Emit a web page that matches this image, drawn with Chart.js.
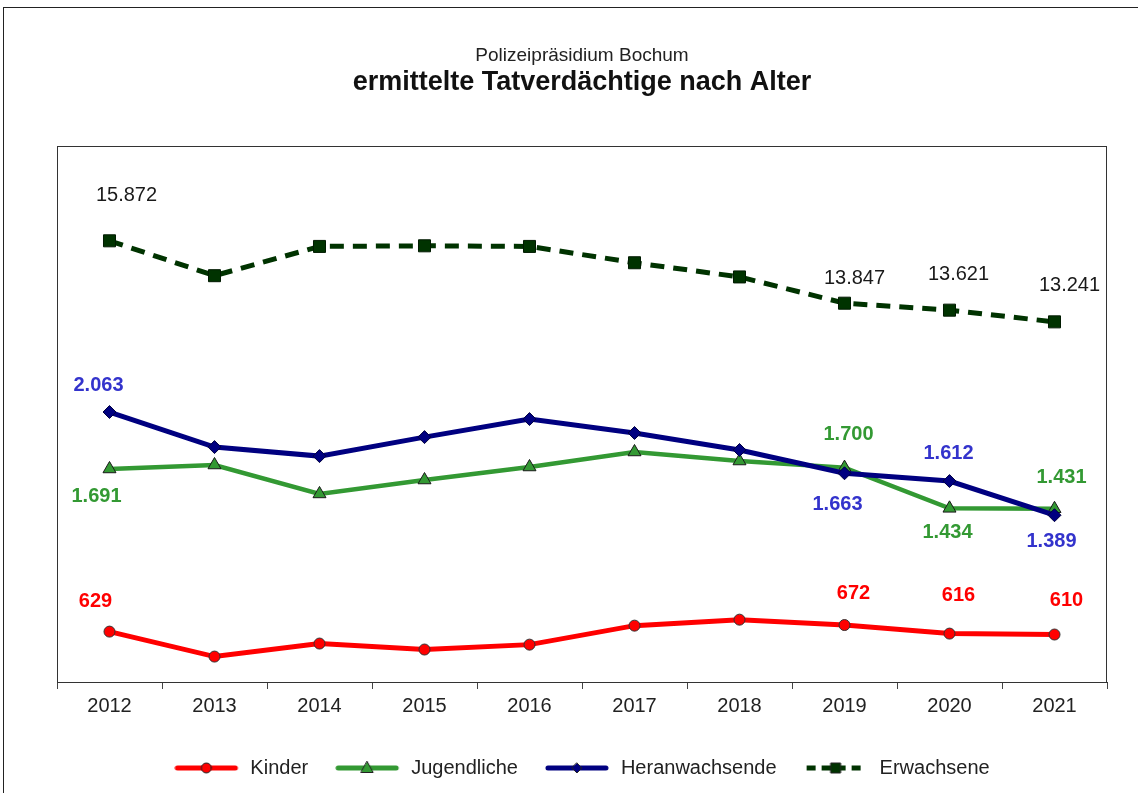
<!DOCTYPE html>
<html>
<head>
<meta charset="utf-8">
<script src="https://cdn.jsdelivr.net/npm/chart.js@4/dist/chart.umd.min.js"></script>
<style>
  body { margin: 0; background: #fff; }
  canvas { display: block; }
</style>
</head>
<body>
<canvas id="tv-chart" width="1138" height="793"></canvas>
<script>
const YEARS = ['2012', '2013', '2014', '2015', '2016', '2017', '2018', '2019', '2020', '2021'];
const KINDER = [629, 466, 551, 512, 544, 668, 707, 672, 616, 610];
const JUGENDLICHE = [1691, 1717, 1528, 1619, 1704, 1802, 1743, 1700, 1434, 1431];
const HERANWACHSENDE = [2063, 1834, 1775, 1899, 2017, 1926, 1815, 1663, 1612, 1389];
const ERWACHSENE = [15872, 14740, 15690, 15710, 15690, 15160, 14700, 13847, 13621, 13241];

// which points get a value label, and where it sits relative to the point
const LABELS = [
  { ds: 0, color: '#FF0000', bold: true, at: [[0, -14, -30], [7, 9, -32], [8, 9, -38], [9, 12, -34]] },
  { ds: 1, color: '#339933', bold: true, at: [[0, -13, 28], [7, 4, -33], [8, -2, 24], [9, 7, -31]] },
  { ds: 2, color: '#3333CC', bold: true, at: [[0, -11, -27], [7, -7, 31], [8, -1, -28], [9, -3, 26]] },
  { ds: 3, color: '#1a1a1a', bold: false, at: [[0, 17, -45], [7, 10, -25], [8, 9, -36], [9, 15, -36]] }
];

const FONT = "'Liberation Sans', Arial, sans-serif";
Chart.defaults.font.family = FONT;
Chart.defaults.color = '#222';

function fmt(v) {
  return String(v).replace(/\B(?=(\d{3})+(?!\d))/g, '.');
}

// small legend sample: line with marker in the middle
function swatch(color, dash, marker) {
  const c = document.createElement('canvas');
  c.width = 66;
  c.height = 20;
  const g = c.getContext('2d');
  g.strokeStyle = color;
  g.lineWidth = 5;
  if (dash) {
    g.setLineDash(dash);
    g.lineCap = 'butt';
  } else {
    g.lineCap = 'round';
  }
  g.beginPath();
  g.moveTo(3, 10);
  g.lineTo(61, 10);
  g.stroke();
  g.setLineDash([]);
  g.fillStyle = color;
  g.strokeStyle = '#222';
  g.lineWidth = 1;
  g.beginPath();
  marker(g, 32, 10);
  g.fill();
  g.stroke();
  return c;
}

const SWATCHES = [
  swatch('#FF0000', null, (g, x, y) => g.arc(x, y, 5, 0, Math.PI * 2)),
  swatch('#339933', null, (g, x, y) => { g.moveTo(x, y - 6.5); g.lineTo(x + 6, y + 4.5); g.lineTo(x - 6, y + 4.5); g.closePath(); }),
  swatch('#000080', null, (g, x, y) => { g.moveTo(x, y - 5); g.lineTo(x + 5, y); g.lineTo(x, y + 5); g.lineTo(x - 5, y); g.closePath(); }),
  swatch('#003300', [9, 6], (g, x, y) => g.rect(x - 5, y - 5, 10, 10))
];

const frame = {
  id: 'frame',
  beforeDraw(chart) {
    const ctx = chart.ctx;
    const a = chart.chartArea;
    ctx.save();
    ctx.fillStyle = '#fff';
    ctx.fillRect(0, 0, chart.width, chart.height);
    ctx.strokeStyle = '#222';
    ctx.lineWidth = 1;
    ctx.strokeRect(3.5, 7.5, 1200, 1000);
    ctx.strokeStyle = '#333';
    ctx.strokeRect(a.left + 0.5, a.top + 0.5, a.right - a.left - 1, a.bottom - a.top);
    ctx.restore();
  }
};

const valueLabels = {
  id: 'valueLabels',
  afterDatasetsDraw(chart) {
    const ctx = chart.ctx;
    ctx.save();
    ctx.textAlign = 'center';
    ctx.textBaseline = 'middle';
    LABELS.forEach(spec => {
      const meta = chart.getDatasetMeta(spec.ds);
      const values = chart.data.datasets[spec.ds].data;
      ctx.fillStyle = spec.color;
      ctx.font = (spec.bold ? 'bold ' : '') + '20px ' + FONT;
      spec.at.forEach(([i, dx, dy]) => {
        const p = meta.data[i];
        ctx.fillText(fmt(values[i]), p.x + dx, p.y + dy);
      });
    });
    ctx.restore();
  }
};

const ctx = document.getElementById('tv-chart');
new Chart(ctx, {
  type: 'line',
  data: {
    labels: YEARS,
    datasets: [{
      label: 'Kinder',
      data: KINDER,
      yAxisID: 'y',
      borderColor: '#FF0000',
      borderWidth: 5,
      pointStyle: 'circle',
      pointRadius: 5.5,
      pointBackgroundColor: '#FF0000',
      pointBorderColor: '#333',
      pointBorderWidth: 1,
      order: 1
    }, {
      label: 'Jugendliche',
      data: JUGENDLICHE,
      yAxisID: 'y',
      borderColor: '#339933',
      borderWidth: 4.5,
      pointStyle: 'triangle',
      pointRadius: 7.5,
      pointBackgroundColor: '#339933',
      pointBorderColor: '#1a1a1a',
      pointBorderWidth: 1,
      order: 2
    }, {
      label: 'Heranwachsende',
      data: HERANWACHSENDE,
      yAxisID: 'y',
      borderColor: '#000080',
      borderWidth: 5,
      pointStyle: 'rectRot',
      pointRadius: 6.5,
      pointBackgroundColor: '#000080',
      pointBorderColor: '#000040',
      pointBorderWidth: 1,
      order: 0
    }, {
      label: 'Erwachsene',
      data: ERWACHSENE,
      yAxisID: 'y2',
      borderColor: '#003300',
      borderWidth: 5,
      borderDash: [14, 9],
      pointStyle: 'rect',
      pointRadius: 8.5,
      pointBackgroundColor: '#003300',
      pointBorderColor: '#001a00',
      pointBorderWidth: 1,
      order: 3
    }]
  },
  options: {
    responsive: false,
    animation: false,
    layout: {
      padding: { left: 57, right: 31, top: 0, bottom: 5 }
    },
    scales: {
      x: {
        offset: true,
        grid: {
          offset: true,
          drawOnChartArea: false,
          tickLength: 7,
          color: '#444'
        },
        border: { color: '#333' },
        ticks: {
          padding: 5,
          color: '#222',
          font: { size: 20 }
        },
        afterFit(scale) {
          scale.height = 49;
        }
      },
      y: { display: false, min: 300, max: 3800 },
      y2: { display: false, min: 1550, max: 18950 }
    },
    plugins: {
      title: {
        display: true,
        text: 'Polizeipräsidium Bochum',
        color: '#222',
        font: { size: 19, weight: 'normal' },
        padding: { top: 44, bottom: 0 }
      },
      subtitle: {
        display: true,
        text: 'ermittelte Tatverdächtige nach Alter',
        color: '#111',
        font: { size: 27, weight: 'bold' },
        padding: { top: 0, bottom: 46.8 }
      },
      legend: {
        position: 'bottom',
        labels: {
          usePointStyle: true,
          pointStyleWidth: 66,
          padding: 27,
          color: '#222',
          font: { size: 20 },
          sort: (a, b) => a.datasetIndex - b.datasetIndex,
          generateLabels(chart) {
            const items = Chart.defaults.plugins.legend.labels.generateLabels(chart);
            items.forEach(item => { item.pointStyle = SWATCHES[item.datasetIndex]; });
            return items;
          }
        }
      },
      tooltip: { enabled: false }
    }
  },
  plugins: [frame, valueLabels]
});
</script>
</body>
</html>
